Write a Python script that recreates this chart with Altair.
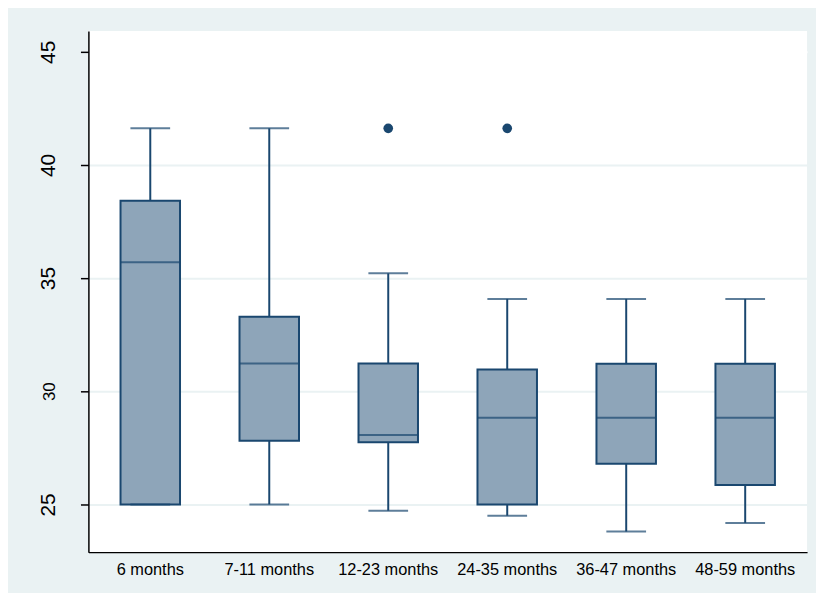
import altair as alt
import pandas as pd

categories = ["6 months", "7-11 months", "12-23 months", "24-35 months", "36-47 months", "48-59 months"]
lower = [25.0, 25.0, 24.72, 24.50, 23.80, 24.18]
q1 = [25.0, 27.81, 27.75, 24.99, 26.80, 25.86]
median = [35.70, 31.23, 28.07, 28.83, 28.83, 28.83]
q3 = [38.42, 33.29, 31.23, 30.96, 31.21, 31.21]
upper = [41.62, 41.62, 35.21, 34.08, 34.08, 34.08]
outlier_cat = ["12-23 months", "24-35 months"]
outlier_val = [41.62, 41.62]
y_ticks = [25, 30, 35, 40, 45]

NAVY = "#1A476F"
FILL = "#8EA5B9"
BG = "#EAF2F3"

df = pd.DataFrame({"cat": categories, "lower": lower, "q1": q1, "median": median,
                   "q3": q3, "upper": upper})
out = pd.DataFrame({"cat": outlier_cat, "val": outlier_val})

xscale = alt.Scale(domain=categories, paddingInner=0.5, paddingOuter=0.27)
yscale = alt.Scale(domain=[22.89, 45.92], nice=False, zero=False)

xaxis = alt.Axis(title=None, labelFontSize=16.5, labelColor="black", labelFont="Liberation Sans",
                 ticks=False, domainColor="black", domainWidth=1.5, labelPadding=10,
                 grid=False, labelAngle=0)
yaxis = alt.Axis(title=None, values=y_ticks, labelAngle=270,
                 labelFontSize={"condition": {"test": "datum.value == 30", "value": 17}, "value": 21},
                 labelColor="black", labelFont="Liberation Sans",
                 tickSize=8, tickColor="black", tickWidth=1.5, domainColor="black", domainWidth=1.5,
                 labelPadding=22, grid=True,
                 gridColor={"condition": {"test": "datum.value == 45", "value": "white"}, "value": BG},
                 gridWidth=2)

x = alt.X("cat:N", scale=xscale, axis=xaxis, sort=categories)
base = alt.Chart(df)

whisk_lo = base.mark_rule(color=NAVY, strokeWidth=2).encode(
    x=x, y=alt.Y("lower:Q", scale=yscale, axis=yaxis), y2="q1:Q")
whisk_hi = base.mark_rule(color=NAVY, strokeWidth=2).encode(
    x=x, y=alt.Y("q3:Q", scale=yscale), y2="upper:Q")
box = base.mark_bar(fill=FILL, stroke=NAVY, strokeWidth=2).encode(
    x=x, y=alt.Y("q1:Q", scale=yscale), y2="q3:Q")
med = base.mark_tick(color=NAVY, size=60, thickness=2, orient="horizontal").encode(
    x=x, y=alt.Y("median:Q", scale=yscale))
cap_lo = base.mark_tick(color=NAVY, size=40, thickness=2, orient="horizontal").encode(
    x=x, y=alt.Y("lower:Q", scale=yscale))
cap_hi = base.mark_tick(color=NAVY, size=40, thickness=2, orient="horizontal").encode(
    x=x, y=alt.Y("upper:Q", scale=yscale))
pts = alt.Chart(out).mark_circle(color=NAVY, size=95, opacity=1).encode(
    x=alt.X("cat:N", scale=xscale, sort=categories), y=alt.Y("val:Q", scale=yscale))

chart = alt.layer(whisk_lo, whisk_hi, box, med, cap_lo, cap_hi, pts).properties(
    width=724, height=525,
    autosize=alt.AutoSizeParams(type="none"),
    padding={"left": 81, "top": 21, "right": 9, "bottom": 39},
    background=BG,
).configure_view(stroke=None, fill="white")

chart.save("out.html", embed_options={"renderer": "svg", "actions": False})
